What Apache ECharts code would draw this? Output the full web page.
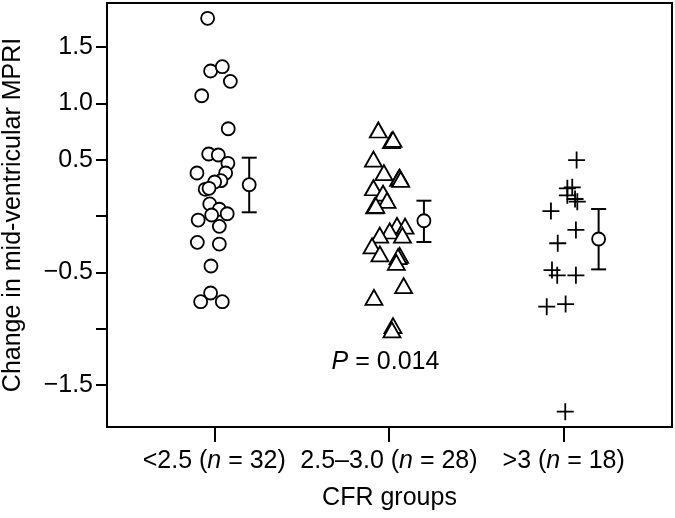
<!DOCTYPE html>
<html>
<head>
<meta charset="utf-8">
<script src="https://cdn.jsdelivr.net/npm/echarts@6/dist/echarts.min.js"></script>
<style>html,body{margin:0;padding:0;background:#fff}#c{width:675px;height:518px}</style>
</head>
<body>
<div id="c"></div>
<script>
// Group tick labels (rich text: italic n)
const groupLabels = ['<2.5 ({i|n} = 32)', '2.5\u20133.0 ({i|n} = 28)', '>3 ({i|n} = 18)'];
const groupPositions = [1, 2, 3];

// Individual points: [jittered x, change in mid-ventricular MPRI]
const cfrLow = [
  [0.962, 1.756], [0.979, 1.288], [1.046, 1.326], [1.092, 1.196], [0.928, 1.068],
  [1.080, 0.775], [0.968, 0.551], [1.023, 0.542], [1.078, 0.468], [0.901, 0.382],
  [1.065, 0.382], [1.038, 0.314], [1.002, 0.302], [0.948, 0.237], [0.970, 0.246],
  [0.974, 0.107], [1.029, 0.060], [0.985, 0.009], [1.074, 0.020], [0.908, -0.036],
  [1.029, -0.092], [0.903, -0.234], [1.029, -0.249], [0.981, -0.444], [0.979, -0.684],
  [0.922, -0.761], [1.046, -0.761]
];
const cfrMid = [
  [1.939, 0.764], [2.014, 0.669], [2.023, 0.681], [1.911, 0.506], [1.971, 0.385],
  [2.055, 0.335], [2.061, 0.345], [2.067, 0.325], [1.911, 0.251], [1.966, 0.204],
  [1.989, 0.139], [1.918, 0.089], [1.925, 0.095], [2.046, -0.083], [2.092, -0.089],
  [2.004, -0.133], [1.947, -0.169], [2.077, -0.169], [1.903, -0.266], [1.948, -0.337],
  [2.061, -0.349], [2.052, -0.361], [2.042, -0.411], [2.084, -0.619], [1.914, -0.722],
  [2.023, -0.974], [2.017, -1.012]
];
const cfrHigh = [
  [3.074, 0.497], [3.021, 0.246], [3.049, 0.255], [3.021, 0.184], [3.065, 0.151],
  [3.078, 0.127], [2.927, 0.044], [3.070, -0.124], [2.966, -0.242], [2.933, -0.480],
  [2.963, -0.527], [3.070, -0.527], [2.903, -0.805], [3.011, -0.782], [3.009, -1.738]
];

// Mean and error bars: [x, mean, lower, upper]
const errorBars = [
  [1.2, 0.278, 0.033, 0.518],
  [2.2, -0.042, -0.231, 0.136],
  [3.2, -0.204, -0.474, 0.062]
];

// y-axis ticks and labels
const yTicks = [-1.5, -1.0, -0.5, 0, 0.5, 1.0, 1.5];
const yLabels = [-1.5, -0.5, 0.5, 1.0, 1.5];

const pText = { pos: [1.98, -1.294], text: '{i|P} = 0.014' };

const FONT = '"Liberation Sans", Arial, Helvetica, sans-serif';
const FS = 25;
const chart = echarts.init(document.getElementById('c'), null, { renderer: 'canvas' });

const ptStyle = { color: '#fff', borderColor: '#000', borderWidth: 1.8, opacity: 1 };

chart.setOption({
  animation: false,
  backgroundColor: '#fff',
  grid: { left: 107, right: 3, top: 3, bottom: 91, containLabel: false, outerBoundsMode: 'none',
    show: true, borderColor: '#000', borderWidth: 2, backgroundColor: 'transparent' },
  xAxis: {
    type: 'value', min: 0.386, max: 3.62,
    name: 'CFR groups', nameLocation: 'middle', nameGap: 59,
    nameTextStyle: { fontFamily: FONT, fontSize: FS, color: '#000' },
    axisLine: { show: true, onZero: false, lineStyle: { color: '#000', width: 2 } },
    axisTick: { show: true, customValues: groupPositions, length: 15, lineStyle: { color: '#000', width: 2 } },
    axisLabel: {
      show: true, customValues: groupPositions, margin: 22,
      fontFamily: FONT, fontSize: FS, color: '#000',
      formatter: function (v) { return groupLabels[Math.round(v) - 1]; },
      rich: { i: { fontStyle: 'italic', fontFamily: FONT, fontSize: FS, color: '#000' } }
    },
    splitLine: { show: false }
  },
  yAxis: {
    type: 'value', min: -1.874, max: 1.892,
    name: 'Change in mid-ventricular MPRI', nameLocation: 'middle', nameGap: 81, nameRotate: 90,
    nameTextStyle: { fontFamily: FONT, fontSize: FS, color: '#000' },
    axisLine: { show: true, onZero: false, lineStyle: { color: '#000', width: 2 } },
    axisTick: { show: true, customValues: yTicks, length: 11, lineStyle: { color: '#000', width: 2 } },
    axisLabel: {
      show: true, customValues: yLabels, margin: 14,
      fontFamily: FONT, fontSize: FS, color: '#000',
      formatter: function (v) { return (v < 0 ? '\u2212' : '') + Math.abs(v).toFixed(1); }
    },
    splitLine: { show: false }
  },
  series: [
    { type: 'scatter', data: cfrLow, symbol: 'circle', symbolSize: 13, itemStyle: ptStyle, z: 3 },
    { type: 'scatter', data: cfrMid, symbol: 'triangle', symbolSize: [17, 15], itemStyle: ptStyle, z: 3 },
    { type: 'scatter', data: cfrHigh, symbol: 'path://M8,0L8,16M0,8L16,8', symbolSize: 17,
      itemStyle: { color: 'none', borderColor: '#000', borderWidth: 1.8, opacity: 1 }, z: 3 },
    {
      type: 'custom', data: errorBars, z: 4,
      renderItem: function (params, api) {
        const x = api.value(0);
        const lo = api.coord([x, api.value(2)]);
        const hi = api.coord([x, api.value(3)]);
        const hw = 7.5;
        const st = { stroke: '#000', lineWidth: 2, fill: null };
        return { type: 'group', children: [
          { type: 'line', shape: { x1: lo[0], y1: lo[1], x2: hi[0], y2: hi[1] }, style: st },
          { type: 'line', shape: { x1: lo[0] - hw, y1: lo[1], x2: lo[0] + hw, y2: lo[1] }, style: st },
          { type: 'line', shape: { x1: hi[0] - hw, y1: hi[1], x2: hi[0] + hw, y2: hi[1] }, style: st }
        ] };
      }
    },
    { type: 'scatter', data: errorBars.map(function (d) { return [d[0], d[1]]; }), symbol: 'circle', symbolSize: 13, itemStyle: ptStyle, z: 5 },
    {
      type: 'scatter', data: [pText.pos], symbolSize: 0, z: 6, itemStyle: { opacity: 1 },
      label: {
        show: true, position: 'inside', formatter: pText.text,
        fontFamily: FONT, fontSize: FS, color: '#000',
        rich: { i: { fontStyle: 'italic', fontFamily: FONT, fontSize: FS, color: '#000' } }
      }
    }
  ]
});
</script>
</body>
</html>
